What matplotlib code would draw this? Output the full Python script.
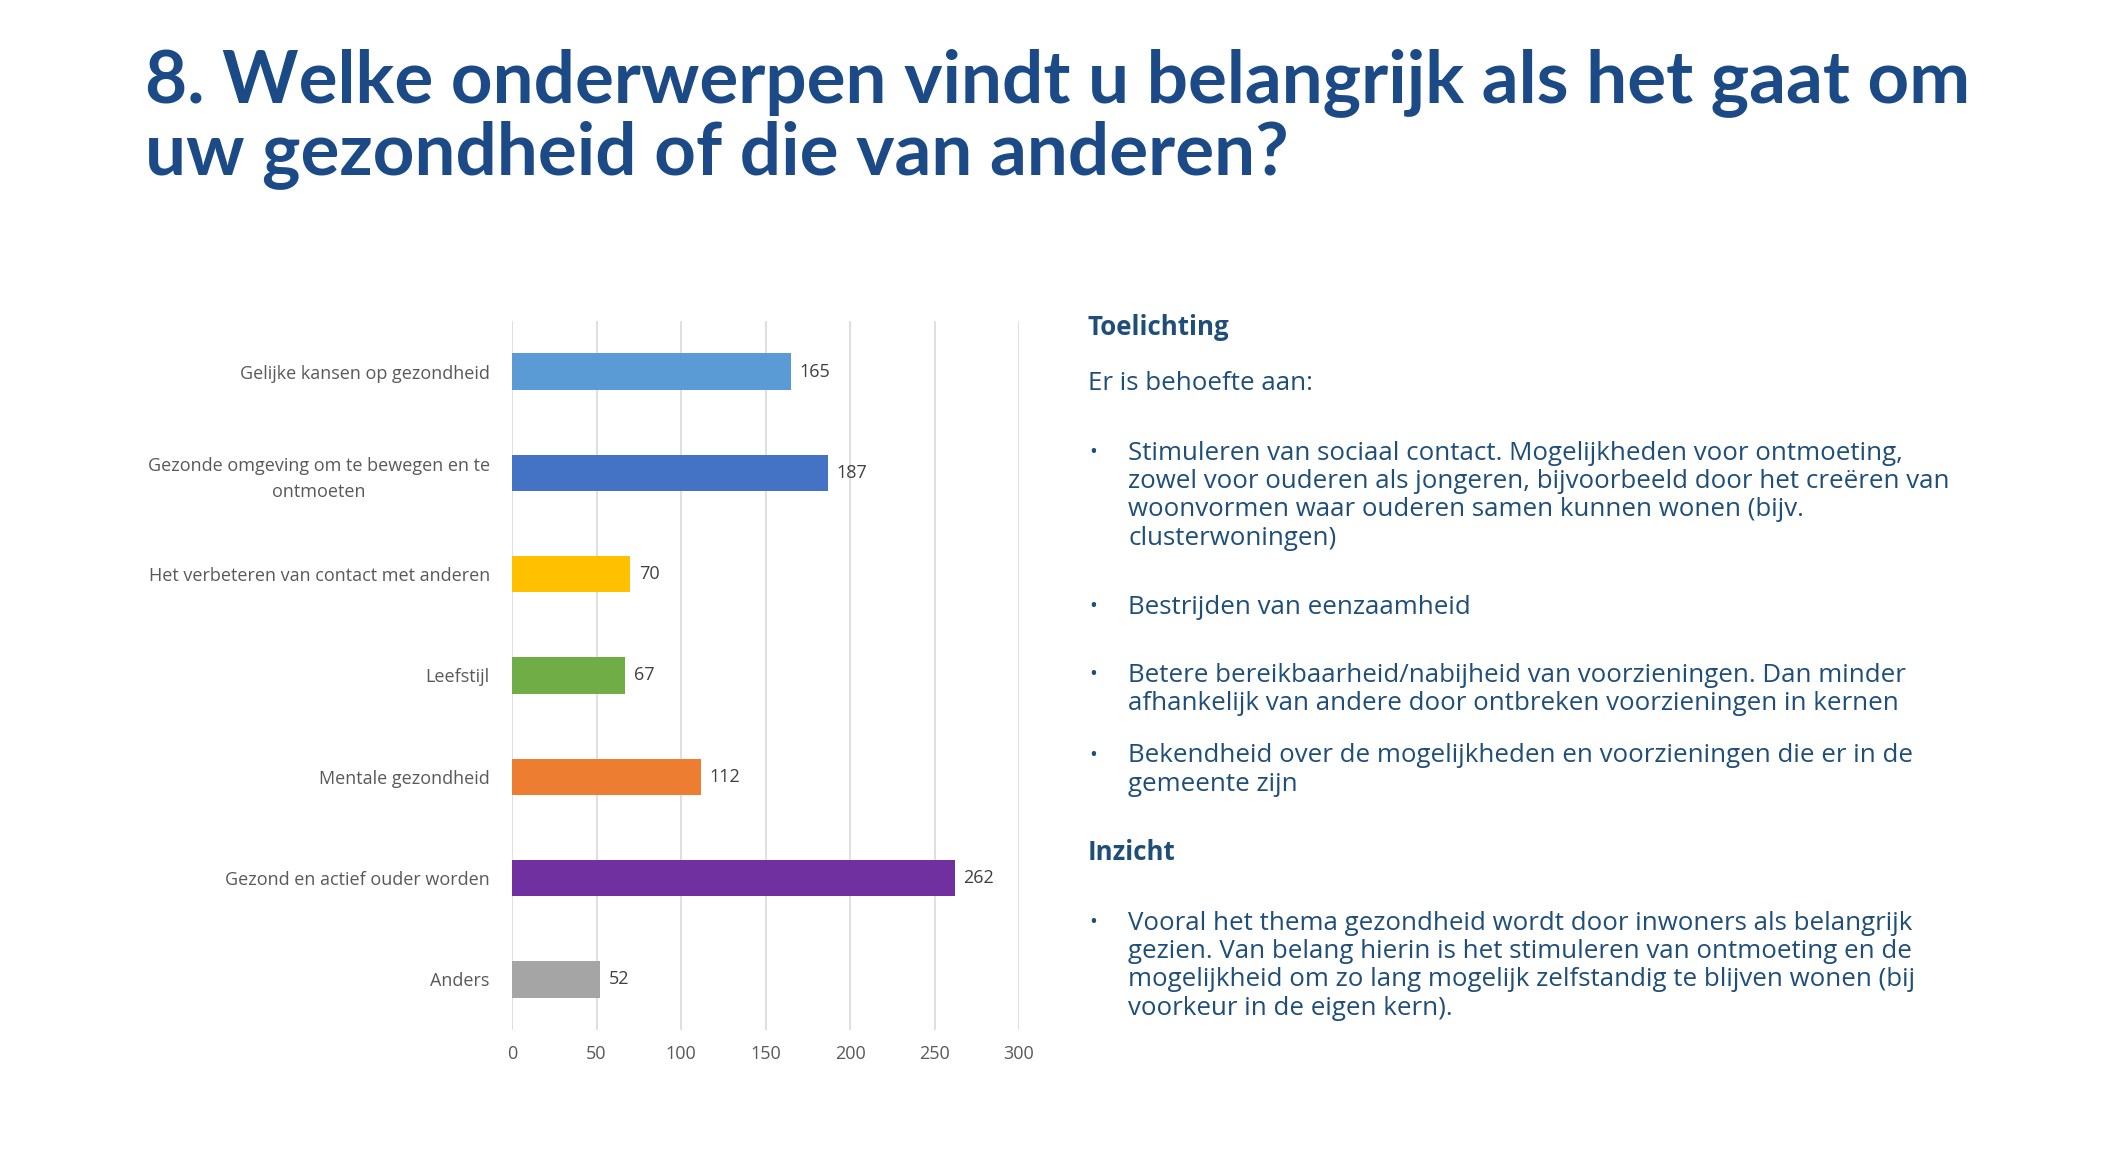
import matplotlib.pyplot as plt

# survey answers (number of respondents)
categories = ['Gelijke kansen op gezondheid',
              'Gezonde omgeving om te bewegen en te\nontmoeten',
              'Het verbeteren van contact met anderen',
              'Leefstijl',
              'Mentale gezondheid',
              'Gezond en actief ouder worden',
              'Anders']
counts = [165, 187, 70, 67, 112, 262, 52]
bar_colours = ['#5B9BD5', '#4472C4', '#FFC000', '#70AD47', '#ED7D31', '#7030A0', '#A5A5A5']
x_ticks = [0, 50, 100, 150, 200, 250, 300]

title_lines = ['8. Welke onderwerpen vindt u belangrijk als het gaat om',
               'uw gezondheid of die van anderen?']

bullets_toelichting = [
    ['Stimuleren van sociaal contact. Mogelijkheden voor ontmoeting,',
     'zowel voor ouderen als jongeren, bijvoorbeeld door het creëren van',
     'woonvormen waar ouderen samen kunnen wonen (bijv.',
     'clusterwoningen)'],
    ['Bestrijden van eenzaamheid'],
    ['Betere bereikbaarheid/nabijheid van voorzieningen. Dan minder',
     'afhankelijk van andere door ontbreken voorzieningen in kernen'],
    ['Bekendheid over de mogelijkheden en voorzieningen die er in de',
     'gemeente zijn'],
]
bullets_inzicht = [
    ['Vooral het thema gezondheid wordt door inwoners als belangrijk',
     'gezien. Van belang hierin is het stimuleren van ontmoeting en de',
     'mogelijkheid om zo lang mogelijk zelfstandig te blijven wonen (bij',
     'voorkeur in de eigen kern).'],
]

W, H = 2114, 1174
BLUE = '#1B4A86'
TXT = '#1F4E79'
BODY_FONT = 'Open Sans'

fig = plt.figure(figsize=(W / 100, H / 100), dpi=100)
fig.patch.set_facecolor('white')

def px(x, y):
    return x / W, 1 - y / H

## title
for i, line in enumerate(title_lines):
    fig.text(*px(145, 102 + i * 72), line, fontsize=52.4, fontweight='bold',
             family='Lato', color=BLUE, va='baseline', ha='left')

## bar chart
ax = fig.add_axes([512 / W, 1 - 1030 / H, 507 / W, 709 / H])
ypos = list(range(len(categories)))
ax.barh(ypos, counts, height=0.36, color=bar_colours, zorder=3)
for y, v in zip(ypos, counts):
    ax.text(v + 5, y, str(v), va='center', ha='left', fontsize=13,
            color='#404040', family='Open Sans')
ax.set_ylim(len(categories) - 0.5, -0.5)
ax.set_xlim(0, 300)
ax.set_xticks(x_ticks)
ax.set_yticks(ypos)
ax.set_yticklabels(categories, multialignment='center', linespacing=1.6)
ax.tick_params(axis='y', length=0, pad=16, labelsize=13, labelcolor='#595959')
ax.tick_params(axis='x', length=0, pad=11, labelsize=13, labelcolor='#595959')
for lab in ax.get_xticklabels() + ax.get_yticklabels():
    lab.set_family('Open Sans')
ax.grid(axis='x', color='#D9D9D9', linewidth=1.2, zorder=0)
for s in ax.spines.values():
    s.set_visible(False)

## explanation text
def bullet_block(lines_list, y_starts, step=28.5):
    for lines, y0 in zip(lines_list, y_starts):
        fig.text(*px(1089, y0), '•', fontsize=15, color=TXT, family=BODY_FONT,
                 va='center_baseline')
        for k, line in enumerate(lines):
            fig.text(*px(1128, y0 + k * step), line, fontsize=18.6, color=TXT,
                     family=BODY_FONT, va='center_baseline')

fig.text(*px(1088, 325), 'Toelichting', fontsize=18.6, fontweight='bold', color=TXT,
         family=BODY_FONT, va='center_baseline')
fig.text(*px(1088, 381), 'Er is behoefte aan:', fontsize=18.6, color=TXT,
         family=BODY_FONT, va='center_baseline')
bullet_block(bullets_toelichting, [450, 604, 672, 753])
fig.text(*px(1088, 850), 'Inzicht', fontsize=18.6, fontweight='bold', color=TXT,
         family=BODY_FONT, va='center_baseline')
bullet_block(bullets_inzicht, [920])

fig.savefig('out.png', dpi=100)
